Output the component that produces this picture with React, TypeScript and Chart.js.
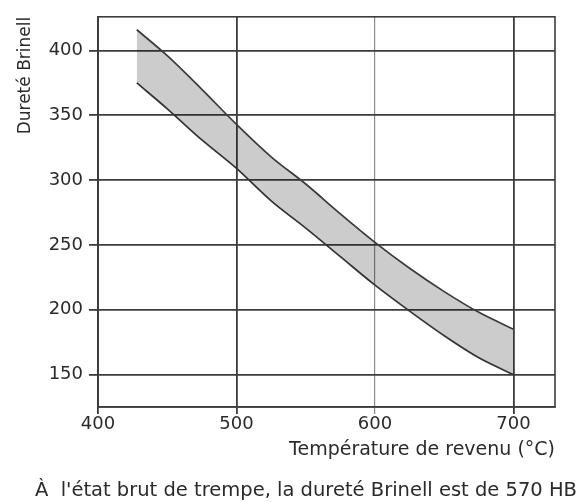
import React, { useEffect, useRef } from "react";
import { Chart, registerables } from "chart.js";

Chart.register(...registerables);

const temperatures = [428, 450, 475, 500, 525, 550, 575, 600, 625, 650, 675, 700];
const upperHardness = [416, 396, 370, 343, 318, 297, 274, 252, 232, 214, 198, 185];
const lowerHardness = [375, 355, 331, 309, 284, 263, 241, 219, 199, 180, 163, 150];

const xTicks = [400, 500, 600, 700];
const yTicks = [150, 200, 250, 300, 350, 400];

const yAxisTitle = "Dureté Brinell";
const xAxisTitle = "Température de revenu (°C)";
const caption = "À  l'état brut de trempe, la dureté Brinell est de 570 HB";

const FONT = "'DejaVu Sans', 'Liberation Sans', Arial, sans-serif";
const TEXT = "#2a2a2a";
const GRID = "#3c3c3c";

const frame = {
  id: "frame",
  afterDraw(chart: any) {
    const { ctx, chartArea } = chart;
    ctx.save();
    ctx.strokeStyle = GRID;
    ctx.lineWidth = 1.6;
    ctx.strokeRect(chartArea.left, chartArea.top, chartArea.right - chartArea.left, chartArea.bottom - chartArea.top);
    ctx.restore();
  },
};

export default function App() {
  const ref = useRef<HTMLCanvasElement | null>(null);

  useEffect(() => {
    if (!ref.current) return;
    const toPts = (vals: number[]) => temperatures.map((t, i) => ({ x: t, y: vals[i] }));
    const chart = new Chart(ref.current, {
      type: "line",
      data: {
        datasets: [
          {
            label: "max",
            data: toPts(upperHardness),
            borderColor: "#3a3a3a",
            borderWidth: 1.7,
            backgroundColor: "rgba(0,0,0,0.2)",
            fill: "+1",
            pointRadius: 0,
            cubicInterpolationMode: "monotone",
          },
          {
            label: "min",
            data: toPts(lowerHardness),
            borderColor: "#3a3a3a",
            borderWidth: 1.7,
            fill: false,
            pointRadius: 0,
            cubicInterpolationMode: "monotone",
          },
        ],
      },
      options: {
        animation: false,
        responsive: false,
        maintainAspectRatio: false,
        layout: { padding: { top: 15, right: 26, bottom: 21, left: 0 } },
        plugins: {
          legend: { display: false },
          tooltip: { enabled: false },
          title: { display: false },
        },
        scales: {
          x: {
            type: "linear",
            min: 400,
            max: 730,
            afterFit: (s: any) => {
              s.height = 74;
            },
            afterBuildTicks: (s: any) => {
              s.ticks = xTicks.map((v) => ({ value: v }));
            },
            ticks: {
              includeBounds: false,
              color: TEXT,
              font: { family: FONT, size: 18 },
              padding: 0,
              maxRotation: 0,
            },
            grid: {
              color: (c: any) => (c.tick && c.tick.value === 600 ? "#8a8a8a" : GRID),
              lineWidth: (c: any) => (c.tick && c.tick.value === 600 ? 1.2 : 1.8),
              tickLength: 7,
            },
            border: { color: GRID, width: 1.6 },
            title: {
              display: true,
              text: xAxisTitle,
              align: "end",
              color: TEXT,
              font: { family: FONT, size: 19 },
              padding: { top: 0, bottom: 19.5 },
            },
          },
          y: {
            type: "linear",
            min: 125,
            max: 426,
            afterFit: (s: any) => {
              s.width = 98;
            },
            afterBuildTicks: (s: any) => {
              s.ticks = yTicks.map((v) => ({ value: v }));
            },
            ticks: {
              includeBounds: false,
              color: TEXT,
              font: { family: FONT, size: 18 },
              padding: 6,
            },
            grid: {
              color: GRID,
              lineWidth: 1.8,
              tickLength: 9,
            },
            border: { color: GRID, width: 1.6 },
            title: {
              display: true,
              text: yAxisTitle,
              align: "end",
              color: TEXT,
              font: { family: FONT, size: 17 },
              padding: { top: 15, bottom: 0 },
            },
          },
        },
      },
      plugins: [frame],
    } as any);
    return () => chart.destroy();
  }, []);

  return (
    <div style={{ position: "fixed", left: 0, top: 0, width: 581, height: 502, background: "#fff" }}>
      <canvas ref={ref} width={581} height={502} style={{ width: 581, height: 502, display: "block" }} />
      <div
        style={{
          position: "absolute",
          right: 4,
          top: 478,
          fontFamily: FONT,
          fontSize: 19.5,
          lineHeight: "24px",
          color: TEXT,
          whiteSpace: "pre",
        }}
      >
        {caption}
      </div>
    </div>
  );
}
